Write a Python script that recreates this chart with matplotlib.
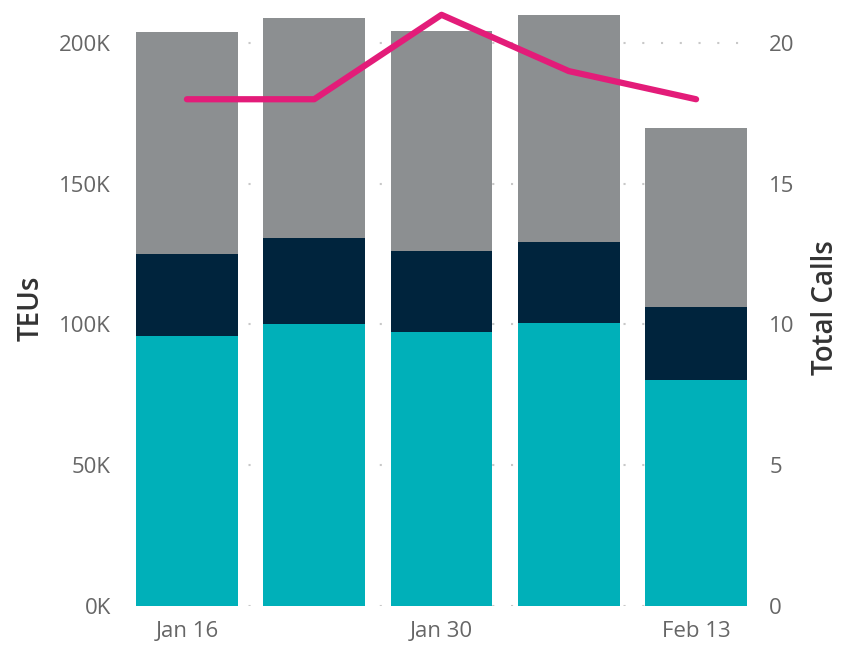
import numpy as np
import matplotlib.pyplot as plt

# weekly data
weeks = ['Jan 16', 'Jan 23', 'Jan 30', 'Feb 6', 'Feb 13']
tick_weeks = ['Jan 16', '', 'Jan 30', '', 'Feb 13']
teu_a = [95.9, 100.2, 97.3, 100.5, 80.3]     # teal, bottom (K)
teu_b = [29.1, 30.5, 28.8, 28.8, 25.9]       # navy, middle (K)
teu_c = [78.9, 78.2, 78.2, 80.6, 63.6]       # gray, top (K)
total_calls = [18, 18, 21, 19, 18]

teal = '#00B0B9'
navy = '#00243D'
grey = '#8C8F91'
pink = '#E31C79'
tick_col = '#666666'
label_col = '#333333'

plt.rcParams['font.family'] = ['Open Sans', 'DejaVu Sans']

fig = plt.figure(figsize=(8.54, 6.46), dpi=100)
ax = fig.add_axes([136 / 854, 1 - 606 / 646, (747 - 136) / 854, (606 - 10) / 646])
ax2 = ax.twinx()

x = np.arange(len(weeks))
a = np.array(teu_a) * 1000
b = np.array(teu_b) * 1000
c = np.array(teu_c) * 1000

ax.bar(x, a, width=0.8, color=teal, zorder=2)
ax.bar(x, b, width=0.8, bottom=a, color=navy, zorder=2)
ax.bar(x, c, width=0.8, bottom=a + b, color=grey, zorder=2)

ymax = 211.7e3
ax.set_ylim(0, ymax)
ax.set_xlim(-0.4, len(weeks) - 0.6)
ax.set_yticks(np.arange(0, 200001, 50000))
ax.set_yticklabels([f'{int(v / 1000)}K' for v in np.arange(0, 200001, 50000)])
ax.yaxis.grid(True, color='#C8C8C8', linestyle=(0, (1, 8)), linewidth=1.5, zorder=0)
ax.set_axisbelow(True)
ax.set_xticks(x)
ax.set_xticklabels(tick_weeks)

ax2.plot(x, total_calls, color=pink, linewidth=4.5, solid_capstyle='round',
         solid_joinstyle='round', zorder=5)
ax2.set_ylim(0, ymax / 10000)
ax2.set_yticks([0, 5, 10, 15, 20])

for axis in (ax, ax2):
    for s in axis.spines.values():
        s.set_visible(False)
    axis.tick_params(length=0, labelsize=16, labelcolor=tick_col)

ax.tick_params(axis='y', pad=18)
ax.tick_params(axis='x', pad=11)
ax2.tick_params(axis='y', pad=16)

ax.set_ylabel('TEUs', fontsize=20, color=label_col, fontweight='semibold', labelpad=10)
ax2.set_ylabel('Total Calls', fontsize=20, color=label_col, fontweight='semibold', labelpad=12)

fig.savefig('out.png', dpi=100)
